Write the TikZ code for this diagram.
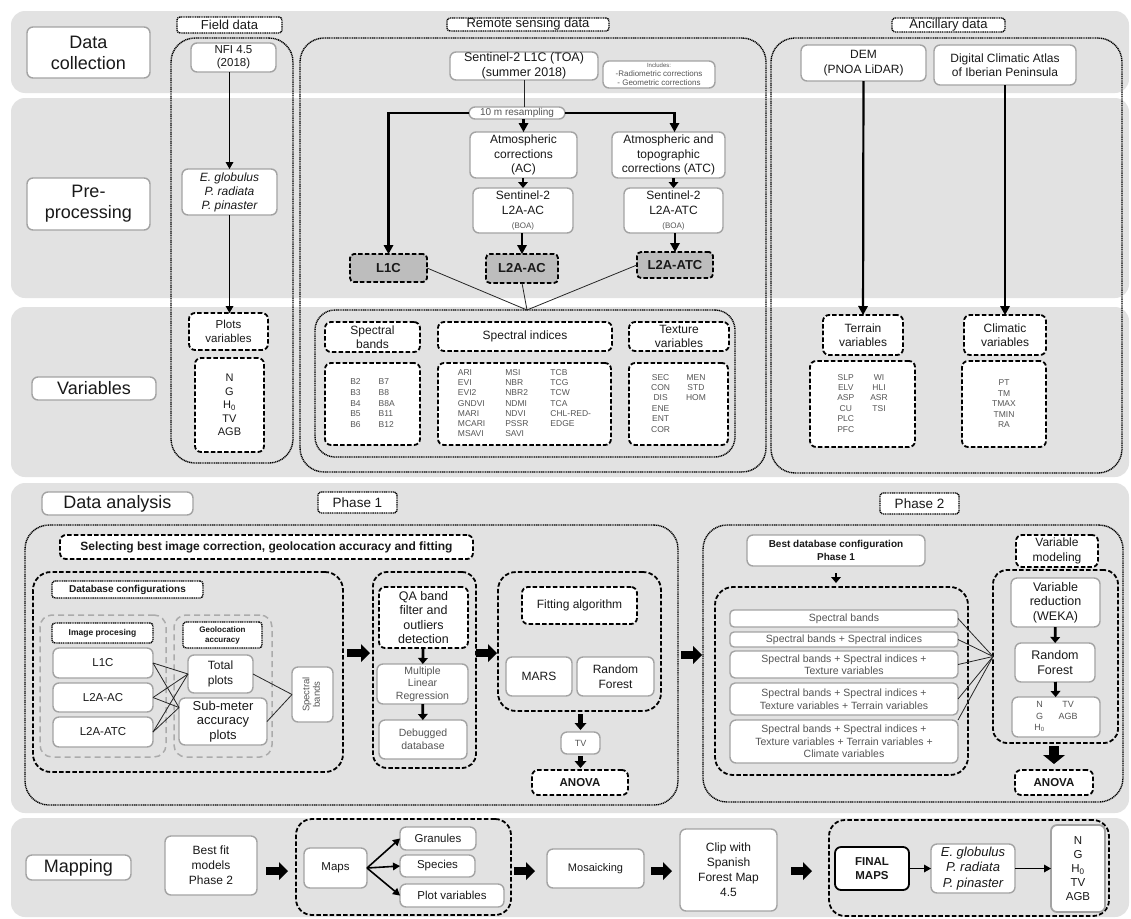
\documentclass[tikz,border=0pt]{standalone}
\usepackage{fontspec}
\setmainfont{Liberation Sans}
\usetikzlibrary{arrows.meta}
\definecolor{bandgray}{HTML}{E2E2E2}
\definecolor{bordergray}{HTML}{A3A3A3}
\definecolor{txtgray}{HTML}{555555}
\definecolor{boxfill}{HTML}{BDBDBD}
\definecolor{gdashc}{HTML}{ABABAB}
\newcommand\fs[2]{\fontsize{#1}{#2}\selectfont}
\newcommand\bx[5]{\bxaux{#1}{#4}{#5}#2;#3;}
\def\bxaux#1#2#3#4,#5;#6,#7;{\node[#1,minimum width={(#6-#4)*1pt},minimum height={(#7-#5)*1pt}] (#2) at ({(#4+#6)/2},{(#5+#7)/2}) {#3};}
\begin{document}
\begin{tikzpicture}[x=1pt,y=-1pt,
  band/.style={fill=bandgray,rounded corners=14pt},
  base/.style={inner sep=0pt,outer sep=0pt,align=center,text=black!90,font=\fs{12}{14.5}},
  wbox/.style={base,draw=bordergray,fill=white,line width=1.4pt,rounded corners=6pt},
  dwbox/.style={base,draw=black,fill=white,line width=1.8pt,dash pattern=on 4.5pt off 2.2pt,rounded corners=6pt},
  gfbox/.style={base,draw=black,fill=boxfill,line width=1.8pt,dash pattern=on 4.5pt off 2.2pt,rounded corners=4pt,font=\bfseries\fs{13}{15}},
  dotlbl/.style={base,draw=black,fill=white,line width=1.4pt,dash pattern=on 1.1pt off 0.7pt,rounded corners=3pt},
  dotcont/.style={base,draw=black,line width=1.4pt,dash pattern=on 1.1pt off 0.7pt,rounded corners=24pt},
  dashcont/.style={base,draw=black,line width=1.8pt,dash pattern=on 4.5pt off 2.2pt,rounded corners=18pt},
  gdash/.style={base,draw=gdashc,line width=1.5pt,dash pattern=on 6pt off 4pt,rounded corners=12pt},
  lbl/.style={wbox,font=\fs{18}{21}},
  thinl/.style={line width=0.8pt,draw=black!85},
  arr/.style={line width=1.6pt,-{Triangle[length=7pt,width=8pt,line width=0pt]}},
  bigarr/.style={line width=2.2pt,-{Triangle[length=9pt,width=10pt,line width=0pt]}},
  sarr/.style={line width=2.8pt,-{Triangle[length=6pt,width=10pt,line width=0pt]}},
  blk/.style={line width=8.5pt,-{Triangle[length=9pt,width=18pt,line width=0pt]}},
  vblk/.style={line width=5.5pt,-{Triangle[length=7pt,width=12pt,line width=0pt]}},
  bigv/.style={line width=10pt,-{Triangle[length=9pt,width=22pt,line width=0pt]}},
]
\useasboundingbox (0,0) rectangle (1131,918);
\fill[white] (0,0) rectangle (1131,918);
% bands
\fill[band] (11,11) rectangle (1129,93);
\fill[band] (11,98) rectangle (1129,298);
\fill[band] (11,307) rectangle (1129,477);
\fill[band] (11,483) rectangle (1129,813);
\fill[band] (11,818) rectangle (1129,917);
% row labels
\bx{lbl}{27,27}{150,78}{dc}{Data\\collection}
\bx{lbl}{27,178}{150,230}{pp}{Pre-\\processing}
\bx{lbl}{32,377}{156,400}{var}{Variables}
\bx{lbl}{42,492}{193,515}{da}{Data analysis}
\bx{lbl}{26,855}{131,880}{mp}{Mapping}
% ---------- field data
\bx{dotcont}{171,38}{293,463}{fc}{}
\bx{dotlbl,font=\fs{13}{15}}{177,17}{282,33}{fl}{Field data}
\bx{wbox,font=\fs{11.5}{13}}{191,43}{276,72}{nfi}{NFI 4.5\\(2018)}
\bx{wbox,font=\itshape\fs{12}{14}}{182,169}{277,215}{fsp}{E. globulus\\P. radiata\\P. pinaster}
\bx{dwbox,font=\fs{11.5}{14}}{189,313}{268,350}{fpv}{Plots\\variables}
\bx{dwbox,font=\fs{11}{13.5}}{195,358}{264,452}{fvv}{N\\G\\H\textsubscript{0}\\TV\\AGB}
\draw[arr] (fsp.north |- nfi.south) -- (fsp.north);
\draw[arr] (fsp.south) -- (fsp.south |- fpv.north);
% ---------- remote sensing
\bx{dotcont}{300,38}{766,472}{rc}{}
\bx{dotlbl,font=\fs{13}{15}}{447,18}{609,31}{rl}{Remote sensing data}
\bx{wbox,font=\fs{12.5}{15}}{450,52}{598,80}{s2}{Sentinel-2 L1C (TOA)\\(summer 2018)}
\bx{wbox,text=txtgray,font=\fs{8}{9}}{603,61}{715,88}{inc}{{\fontsize{6}{7}\selectfont Includes:}\\-Radiometric corrections\\- Geometric corrections}
\bx{wbox,text=txtgray,font=\fs{10}{11}}{469,107}{565,119}{res}{10 m resampling}
\bx{wbox}{470,132}{577,178}{ac}{Atmospheric\\corrections\\(AC)}
\bx{wbox}{612,132}{725,178}{atc}{Atmospheric and\\topographic\\corrections (ATC)}
\bx{wbox}{473,188}{573,233}{sac}{Sentinel-2\\L2A-AC\\{\fontsize{8}{9}\selectfont\color{txtgray}(BOA)}}
\bx{wbox}{624,188}{723,233}{satc}{Sentinel-2\\L2A-ATC\\{\fontsize{8}{9}\selectfont\color{txtgray}(BOA)}}
\bx{gfbox}{350,254}{427,282}{g1}{L1C}
\bx{gfbox}{486,254}{558,283}{g2}{L2A-AC}
\bx{gfbox}{637,252}{713,278}{g3}{L2A-ATC}
\draw[thinl] (s2.south) -- (s2.south |- res.north);
\draw[bigarr] (res.west) -| (g1.north);
\draw[bigarr] (res.east) -| ([xshift=6pt]atc.north);
\draw[bigarr] (ac.north |- res.south) -- (ac.north);
\draw[sarr] (sac.north |- ac.south) -- (sac.north);
\draw[sarr] (satc.north |- atc.south) -- (satc.north);
\draw[bigarr] (g2.north |- sac.south) -- (g2.north);
\draw[bigarr] (g3.north |- satc.south) -- (g3.north);
% variables (remote)
\bx{dotcont,rounded corners=20pt}{315,310}{735,457}{vc}{}
\coordinate (jn) at (527,310);
\draw[thinl] (g1.east) -- (jn);
\draw[thinl] (g2.south) -- (jn);
\draw[thinl] (g3.west) -- (jn);
\bx{dwbox}{325,322}{420,352}{sbl}{Spectral\\bands}
\bx{dwbox,text=txtgray,font=\fs{8.5}{10.7}}{325,363}{420,445}{sbv}{\begin{tabular}{@{}l@{\hspace{18pt}}l@{}}B2&B7\\B3&B8\\B4&B8A\\B5&B11\\B6&B12\end{tabular}}
\bx{dwbox}{438,322}{612,351}{sil}{Spectral indices}
\bx{dwbox,text=txtgray,font=\fs{8.5}{10.3}}{438,363}{611,445}{siv}{\begin{tabular}{@{}l@{\hspace{20pt}}l@{\hspace{22pt}}l@{}}ARI&MSI&TCB\\EVI&NBR&TCG\\EVI2&NBR2&TCW\\GNDVI&NDMI&TCA\\MARI&NDVI&CHL-RED-\\MCARI&PSSR&EDGE\\MSAVI&SAVI&\end{tabular}}
\bx{dwbox}{629,322}{729,351}{txl}{Texture\\variables}
\bx{dwbox,text=txtgray,font=\fs{8.5}{10.4}}{629,363}{728,445}{txv}{\begin{tabular}{@{}c@{\hspace{16pt}}c@{}}SEC&MEN\\CON&STD\\DIS&HOM\\ENE&\\ENT&\\COR&\end{tabular}}
% ---------- ancillary
\bx{dotcont}{771,38}{1122,473}{anc}{}
\bx{dotlbl,font=\fs{13}{15}}{892,18}{1005,32}{anl}{Ancillary data}
\bx{wbox}{801,45}{926,81}{dem}{DEM\\(PNOA LiDAR)}
\bx{wbox}{934,45}{1076,85}{dca}{Digital Climatic Atlas\\of Iberian Peninsula}
\bx{dwbox}{823,315}{903,355}{trl}{Terrain\\variables}
\bx{dwbox,text=txtgray,font=\fs{8.5}{10.4}}{810,361}{915,447}{trv}{\begin{tabular}{@{}c@{\hspace{16pt}}c@{}}SLP&WI\\ELV&HLI\\ASP&ASR\\CU&TSI\\PLC&\\PFC&\end{tabular}}
\bx{dwbox}{964,315}{1046,355}{cll}{Climatic\\variables}
\bx{dwbox,text=txtgray,font=\fs{8.5}{10.5}}{962,361}{1046,447}{clv}{PT\\TM\\TMAX\\TMIN\\RA}
\draw[bigarr] (dem) -- (trl);
\draw[bigarr] (dca) -- (cll);
% ---------- data analysis: phase 1
\bx{dotcont}{25,525}{678,805}{p1c}{}
\bx{dotlbl,font=\fs{13.5}{15}}{318,492}{397,513}{p1l}{Phase 1}
\bx{dwbox,font=\bfseries\fs{12}{14}}{60,535}{473,559}{sel}{Selecting best image correction, geolocation accuracy and fitting}
\bx{dashcont}{33,572}{343,772}{dbc}{}
\bx{dotlbl,font=\bfseries\fs{10}{12}}{52,581}{203,598}{dbl}{Database configurations}
\bx{gdash}{40,615}{166,757}{ipg}{}
\bx{dotlbl,font=\bfseries\fs{8.5}{10}}{52,623}{153,643}{ipl}{Image procesing}
\bx{wbox,font=\fs{11.5}{13}}{53,648}{153,678}{q1}{L1C}
\bx{wbox,font=\fs{11.5}{13}}{53,683}{153,712}{q2}{L2A-AC}
\bx{wbox,font=\fs{11.5}{13}}{53,717}{153,747}{q3}{L2A-ATC}
\bx{gdash}{174,615}{272,757}{geo}{}
\bx{dotlbl,font=\bfseries\fs{8}{10}}{183,622}{262,648}{gel}{Geolocation\\accuracy}
\bx{wbox,font=\fs{12}{14.5}}{188,655}{253,693}{tp}{Total\\plots}
\bx{wbox,font=\fs{13}{14.5}}{179,698}{267,745}{smp}{Sub-meter\\accuracy\\plots}
\bx{wbox,text=txtgray,font=\fs{9.5}{10.5}}{292,667}{333,722}{sbr}{\rotatebox{90}{\begin{tabular}{@{}c@{}}Spectral\\bands\end{tabular}}}
\foreach \nn in {q1,q2,q3}{
  \draw[thinl] (\nn.east) -- (tp.west);
  \draw[thinl] (\nn.east) -- ([yshift=14pt]smp.west);
}
\draw[thinl] (tp.east) -- (sbr.west);
\draw[thinl] (smp.east) -- (sbr.west);
\coordinate (a1s) at (347,653); \coordinate (a1e) at (370,653);
\draw[blk] (a1s) -- (a1e);
\bx{dashcont,rounded corners=14pt}{373,572}{476,768}{qac}{}
\bx{dwbox,font=\fs{12.5}{14.2}}{379,587}{468,648}{qa}{QA band\\filter and\\outliers\\detection}
\bx{wbox,text=txtgray,font=\fs{10.5}{12.5}}{377,664}{468,704}{mlr}{Multiple\\Linear\\Regression}
\bx{wbox,text=txtgray,font=\fs{10.5}{13}}{379,720}{467,759}{deb}{Debugged\\database}
\draw[sarr] (qa) -- (mlr);
\draw[sarr] (mlr) -- (deb);
\coordinate (a2s) at (476,653); \coordinate (a2e) at (497,653);
\draw[blk] (a2s) -- (a2e);
\bx{dashcont}{498,572}{661,711}{fitc}{}
\bx{dwbox}{522,587}{637,624}{fa}{Fitting algorithm}
\bx{wbox}{506,657}{572,696}{mars}{MARS}
\bx{wbox}{577,657}{654,696}{rf1}{Random\\Forest}
\bx{wbox,text=txtgray,font=\fs{9}{10}}{561,732}{600,754}{tv1}{TV}
\bx{dwbox,font=\bfseries\fs{11.5}{14}}{532,770}{628,795}{an1}{ANOVA}
\draw[vblk,shorten <=3pt,shorten >=2pt] (tv1.north |- fitc.south) -- (tv1.north);
\draw[vblk,shorten <=2pt,shorten >=2pt] (tv1.south) -- (tv1.south |- an1.north);
\coordinate (a3s) at (681,655); \coordinate (a3e) at (702,655);
\draw[blk] (a3s) -- (a3e);
% ---------- phase 2
\bx{dotcont}{703,525}{1123,802}{p2c}{}
\bx{dotlbl,font=\fs{13.5}{15}}{880,493}{959,514}{p2l}{Phase 2}
\bx{wbox,font=\bfseries\fs{10}{12.5}}{747,535}{925,566}{bdc}{Best database configuration\\Phase 1}
\bx{dashcont}{715,587}{968,775}{dbls}{}
\draw[sarr,shorten <=7pt,shorten >=4pt] (bdc.south) -- (bdc.south |- dbls.north);
\bx{wbox,text=txtgray,font=\fs{10.5}{12.5},rounded corners=4pt}{730,610}{958,627}{r1}{Spectral bands}
\bx{wbox,text=txtgray,font=\fs{10.5}{12.5},rounded corners=4pt}{730,632}{958,647}{r2}{Spectral bands + Spectral indices}
\bx{wbox,text=txtgray,font=\fs{10.5}{12.5},rounded corners=5pt}{730,651}{958,678}{r3}{Spectral bands + Spectral indices +\\Texture variables}
\bx{wbox,text=txtgray,font=\fs{10.5}{12.5},rounded corners=5pt}{730,683}{958,715}{r4}{Spectral bands + Spectral indices +\\Texture variables + Terrain variables}
\bx{wbox,text=txtgray,font=\fs{10.5}{12.5}}{730,720}{958,763}{r5}{Spectral bands + Spectral indices +\\Texture variables + Terrain variables +\\Climate variables}
\bx{dwbox}{1016,535}{1098,567}{vml}{Variable\\modeling}
\bx{dashcont,rounded corners=14pt}{993,570}{1118,743}{vmc}{}
\bx{wbox,font=\fs{12.5}{14.5}}{1011,578}{1100,627}{vr}{Variable\\reduction\\(WEKA)}
\bx{wbox,font=\fs{12.5}{14.5}}{1015,643}{1095,682}{rf2}{Random\\Forest}
\bx{wbox,text=txtgray,font=\fs{9}{11.5}}{1012,697}{1100,737}{o2}{\begin{tabular}{@{}c@{\hspace{14pt}}c@{}}N&TV\\G&AGB\\H\textsubscript{0}&\end{tabular}}
\bx{dwbox,font=\bfseries\fs{11.5}{14}}{1015,770}{1093,795}{an2}{ANOVA}
\foreach \rr in {r1,r2,r3,r4}{\draw[thinl] (\rr.east) -- (vmc.west);}
\draw[thinl] (r5.north east) -- (vmc.west);
\draw[sarr] (vr) -- (rf2);
\draw[sarr] (rf2) -- (o2);
\draw[bigv,shorten <=3pt,shorten >=6pt] (an2.north |- vmc.south) -- (an2.north);
% ---------- mapping
\bx{wbox,font=\fs{12}{15}}{165,836}{257,895}{bfm}{Best fit\\models\\Phase 2}
\coordinate (m1s) at (266,871); \coordinate (m1e) at (288,871);
\draw[blk] (m1s) -- (m1e);
\bx{dashcont,rounded corners=16pt}{296,819}{511,915}{mapc}{}
\bx{wbox,font=\fs{11.5}{13}}{304,848}{367,888}{maps}{Maps}
\bx{wbox,font=\fs{11.5}{13}}{400,827}{476,850}{gran}{Granules}
\bx{wbox,font=\fs{11.5}{13}}{400,855}{475,877}{spcs}{Species}
\bx{wbox,font=\fs{11.5}{13}}{400,884}{504,907}{plv}{Plot variables}
\draw[arr] (maps.east) -- (gran.west);
\draw[arr] (maps.east) -- (spcs.west);
\draw[arr] (maps.east) -- (plv.west);
\coordinate (m2s) at (514,871); \coordinate (m2e) at (535,871);
\draw[blk] (m2s) -- (m2e);
\bx{wbox,font=\fs{11}{13}}{547,849}{644,888}{mos}{Mosaicking}
\coordinate (m3s) at (651,871); \coordinate (m3e) at (672,871);
\draw[blk] (m3s) -- (m3e);
\bx{wbox,font=\fs{12}{15}}{680,829}{777,911}{clip}{Clip with\\Spanish\\Forest Map\\4.5}
\coordinate (m4s) at (791,871); \coordinate (m4e) at (812,871);
\draw[blk] (m4s) -- (m4e);
\bx{dashcont,rounded corners=16pt}{829,820}{1109,916}{finc}{}
\bx{base,draw=black,fill=white,line width=1.8pt,rounded corners=6pt,font=\bfseries\fs{11.5}{14}}{835,847}{909,890}{fm}{FINAL\\MAPS}
\bx{wbox,font=\itshape\fs{13}{15.5}}{931,844}{1015,893}{sp2}{E. globulus\\P. radiata\\P. pinaster}
\bx{wbox,line width=1.8pt,font=\fs{11.5}{14}}{1051,825}{1105,912}{ng2}{N\\G\\H\textsubscript{0}\\TV\\AGB}
\draw[arr] (fm) -- (sp2);
\draw[arr] (sp2) -- (ng2);
\end{tikzpicture}
\end{document}
